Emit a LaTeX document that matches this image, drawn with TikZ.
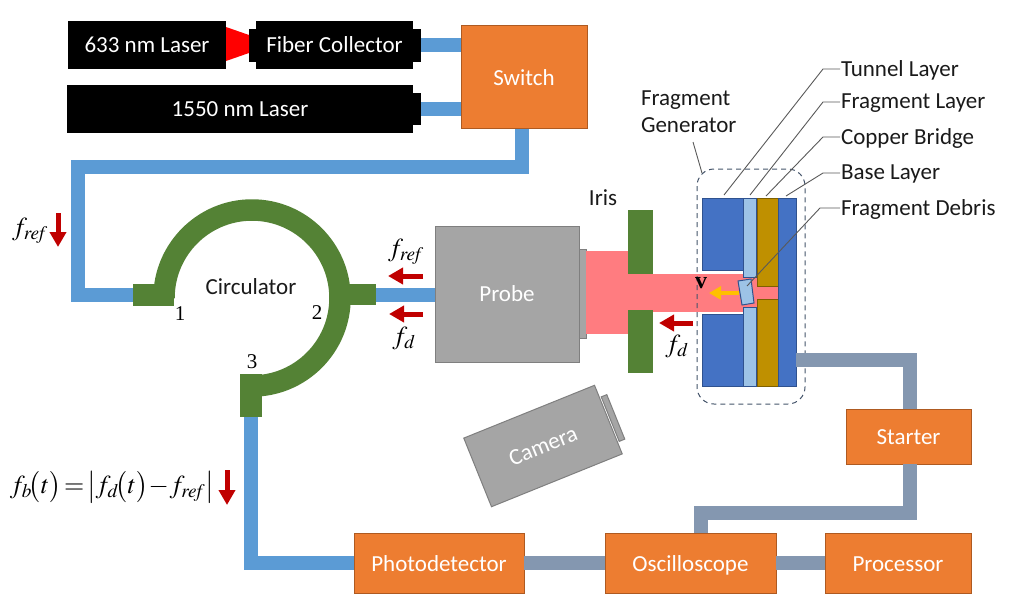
\documentclass[tikz,border=0pt]{standalone}
\usepackage{mathptmx}
\usepackage[no-math]{fontspec}
\setmainfont{Carlito}
\newfontfamily\serifnum{Liberation Serif}
\usetikzlibrary{positioning, arrows.meta}

\definecolor{orangefill}{HTML}{ED7D31}
\definecolor{orangeline}{HTML}{AE5A21}
\definecolor{wireblue}{HTML}{5B9BD5}
\definecolor{wireslate}{HTML}{8497B0}
\definecolor{circgreen}{HTML}{548235}
\definecolor{greyfill}{HTML}{A5A5A5}
\definecolor{greyline}{HTML}{7F7F7F}
\definecolor{beampink}{HTML}{FF7C80}
\definecolor{layerblue}{HTML}{4472C4}
\definecolor{layerline}{HTML}{2F528F}
\definecolor{layerlight}{HTML}{9DC3E6}
\definecolor{copper}{HTML}{BF9000}
\definecolor{copperline}{HTML}{7F6000}
\definecolor{arrowred}{HTML}{C00000}
\definecolor{arrowyellow}{HTML}{FFC000}
\definecolor{dashline}{HTML}{44546A}
\definecolor{leader}{HTML}{595959}
\definecolor{labelgrey}{HTML}{1A1A1A}

\begin{document}
\begin{tikzpicture}[x=1pt,y=-1pt]
	\tikzstyle{every node}=[font=\fontsize{23}{27}\selectfont,inner sep=0pt,outer sep=0pt]
	\tikzstyle{blackbox}=[fill=black,text=white]
	\tikzstyle{orangebox}=[draw=orangeline,fill=orangefill,text=white,line width=1pt,text height=18.5pt,text depth=2pt]
	\tikzstyle{greybox}=[draw=greyline,fill=greyfill,text=white,line width=1pt]
	\tikzstyle{bluewire}=[draw=wireblue,line width=14pt]
	\tikzstyle{slatewire}=[draw=wireslate,line width=14pt]
	\tikzstyle{greenpart}=[fill=circgreen]
	\tikzstyle{layer}=[draw=layerline,fill=layerblue,line width=1pt]
	\tikzstyle{lightlayer}=[draw=layerline,fill=layerlight,line width=1pt]
	\tikzstyle{copperlayer}=[draw=copperline,fill=copper,line width=1pt]
	\tikzstyle{leaderline}=[draw=leader,line width=0.9pt]
	\tikzstyle{flowarrow}=[draw=arrowred,line width=5pt,-{Triangle[length=15pt,width=16pt,fill=arrowred]}]
	\tikzstyle{mathlabel}=[font=\fontsize{26}{30}\selectfont]
	\tikzstyle{portlabel}=[font=\fontsize{21}{24}\serifnum]
	\tikzstyle{sidelabel}=[anchor=west,text=labelgrey]

	\useasboundingbox (0,0) rectangle (1012,603);

	% lasers and collector
	\node[blackbox,minimum width=158,minimum height=48] (laser633) at (147,45) {633 nm Laser};
	\node[blackbox,minimum width=157,minimum height=48] (collector) at (334.5,45) {Fiber Collector};
	\node[blackbox,minimum width=346,minimum height=48] (laser1550) at (240,109) {1550 nm Laser};
	\node[blackbox,minimum width=7,minimum height=33,left of=collector,node distance=82] (nibleft) {};
	\node[blackbox,minimum width=8,minimum height=33,right of=collector,node distance=82.5] (nibright) {};
	\node[blackbox,minimum width=8,minimum height=32,right of=laser1550,node distance=177] (nib1550) {};
	\fill[red] (226,27) -- (249,35) -- (249,53) -- (226,61) -- cycle;

	% boxes
	\node[orangebox,minimum width=126,minimum height=103] (switch) at (524,77) {Switch};
	\node[orangebox,minimum width=170,minimum height=60] (photo) at (439,563) {Photodetector};
	\node[orangebox,minimum width=171,minimum height=60,right of=photo,node distance=251.5] (scope) {Oscilloscope};
	\node[orangebox,minimum width=146,minimum height=60,right of=scope,node distance=207.5] (processor) {Processor};
	\node[orangebox,minimum width=125,minimum height=55] (starter) at (908.5,436.5) {Starter};
	\node[greybox,minimum width=144,minimum height=136] (probe) at (507,294) {Probe};
	\node[greybox,minimum width=7,minimum height=89,right of=probe,node distance=75.5] (probenose) {};
	\node[greybox,minimum width=141,minimum height=74,rotate=22] (camera) at (543,446) {Camera};
	\node[greybox,minimum width=6,minimum height=48,rotate=22] (cameralens) at (613,418) {};

	% circulator
	\coordinate (arcstart) at (164,298);
	\draw[circgreen,line width=21.5pt] (arcstart) arc (180:450:88);
	\node[greenpart,minimum width=41,minimum height=22] (port1) at (153.5,295) {};
	\node[greenpart,minimum width=31,minimum height=21] (port2) at (360.5,294.5) {};
	\node[greenpart,minimum width=22,minimum height=43] (port3) at (251,395.5) {};
	\node[text=labelgrey] (circlabel) at (251,287) {Circulator};
	\node[portlabel] (num1) at (180,313.5) {1};
	\node[portlabel] (num2) at (317,312.5) {2};
	\node[portlabel] (num3) at (252,362) {3};

	% fibers
	\draw[bluewire] (nibright.east) -- (switch.west |- nibright.east);
	\draw[bluewire] (nib1550.east) -- (switch.west |- nib1550.east);
	\coordinate (bendA) at (522,167);
	\coordinate (bendB) at (78,167);
	\coordinate (bendC) at (78,295);
	\draw[bluewire] (bendA |- switch.south) -- (bendA) -- (bendB) -- (bendC) -- (port1.west);
	\draw[bluewire] (port2.east) -- (probe.west |- port2.east);
	\coordinate (bendD) at (251,563);
	\draw[bluewire] (port3.south) -- (bendD) -- (photo.west);

	% beam
	\fill[beampink] (586,251) rectangle (628,334);
	\fill[beampink] (628,274) rectangle (743,312);
	\fill[beampink] (743,277) rectangle (757,307);
	\fill[beampink] (757,286) rectangle (778,299);

	% iris
	\node[greenpart,minimum width=25,minimum height=64] (iristop) at (640.5,242) {};
	\node[greenpart,minimum width=25,minimum height=63,below of=iristop,node distance=99.5] (irisbottom) {};
	\node[text=labelgrey] (iristext) at (603,198) {Iris};

	% fragment generator
	\draw[layer] (702,198) rectangle (743,270);
	\draw[layer] (702,314) rectangle (743,386);
	\draw[lightlayer] (743,198) rectangle (756,277);
	\draw[lightlayer] (743,307) rectangle (756,386);
	\draw[copperlayer] (757,198) rectangle (778,286);
	\draw[copperlayer] (757,299) rectangle (778,386);
	\draw[layer] (778,198) rectangle (796,386);
	\draw[lightlayer] (738,281) -- (751,279) -- (754,303) -- (742,305) -- cycle;
	\draw[dashline,line width=1pt,dash pattern=on 5pt off 4pt,rounded corners=17pt] (697,169) rectangle (805,404);
	\coordinate (baseport) at (796,359.5);
	\coordinate (bendE) at (910,359.5);
	\draw[slatewire] (baseport) -- (bendE) -- (bendE |- starter.north);
	\coordinate (bendF) at (910,513);
	\coordinate (bendG) at (701,513);
	\draw[slatewire] (bendF |- starter.south) -- (bendF) -- (bendG) -- (bendG |- scope.north);
	\draw[slatewire] (photo.east) -- (scope.west);
	\draw[slatewire] (scope.east) -- (processor.west);

	% velocity
	\coordinate (vtail) at (739,293);
	\coordinate (vtip) at (709,293);
	\draw[draw=arrowyellow,line width=4.5pt,-{Triangle[length=12pt,width=13pt]}] (vtail) -- (vtip);
	\node[font=\fontsize{24}{24}\serifnum\bfseries] (vlabel) at (701,283) {v};

	% labels with leaders
	\node[sidelabel] (tunnel) at (841,70) {Tunnel Layer};
	\node[sidelabel] (fragment) at (841,103) {Fragment Layer};
	\node[sidelabel] (bridge) at (841,138) {Copper Bridge};
	\node[sidelabel] (base) at (841,174) {Base Layer};
	\node[sidelabel] (debris) at (841,209) {Fragment Debris};
	\node[sidelabel,align=left] (generator) at (641,112) {Fragment\\Generator};
	\coordinate (tunnelend) at (724,195);
	\coordinate (fragmentend) at (750,195);
	\coordinate (bridgeend) at (766,196);
	\coordinate (baseend) at (786,196);
	\coordinate (debrisend) at (747,286);
	\coordinate (leaderstart) at (693,142);
	\coordinate (boxcorner) at (702,173);
	\draw[leaderline] ([shift={(-1pt,1pt)}]tunnel.west) -- ++(-17,0) -- (tunnelend);
	\draw[leaderline] ([shift={(-1pt,1pt)}]fragment.west) -- ++(-17,0) -- (fragmentend);
	\draw[leaderline] ([shift={(-1pt,1pt)}]bridge.west) -- ++(-17,0) -- (bridgeend);
	\draw[leaderline] ([shift={(-1pt,1pt)}]base.west) -- ++(-17,0) -- (baseend);
	\draw[leaderline] ([shift={(-1pt,1pt)}]debris.west) -- ++(-20,0) -- (debrisend);
	\draw[leaderline] (leaderstart) -- (boxcorner);

	% flow arrows
	\foreach \name/\xa/\ya/\xb/\yb in {downref/58/213/58/247,backref/423/276/388/276,backd/423/314/389/314,irisd/693/323/659/323,downbeat/227/470/227/505}{
		\coordinate (\name a) at (\xa,\ya);
		\coordinate (\name b) at (\xb,\yb);
		\draw[flowarrow] (\name a) -- (\name b);
	}
	\node[mathlabel] (freflabel) at (30,231) {$f_{\mathit{ref}}$};
	\node[mathlabel] (frefright) at (406,252) {$f_{\mathit{ref}}$};
	\node[mathlabel] (fdleft) at (404,338) {$f_{d}$};
	\node[mathlabel] (fdiris) at (677,346) {$f_{d}$};
	\node[mathlabel] (beatlabel) at (112,487) {$f_b\!\bigl(t\bigr)\!=\!\left|f_d\!\bigl(t\bigr)\!-\!f_{\mathit{ref}}\right|$};
\end{tikzpicture}
\end{document}
